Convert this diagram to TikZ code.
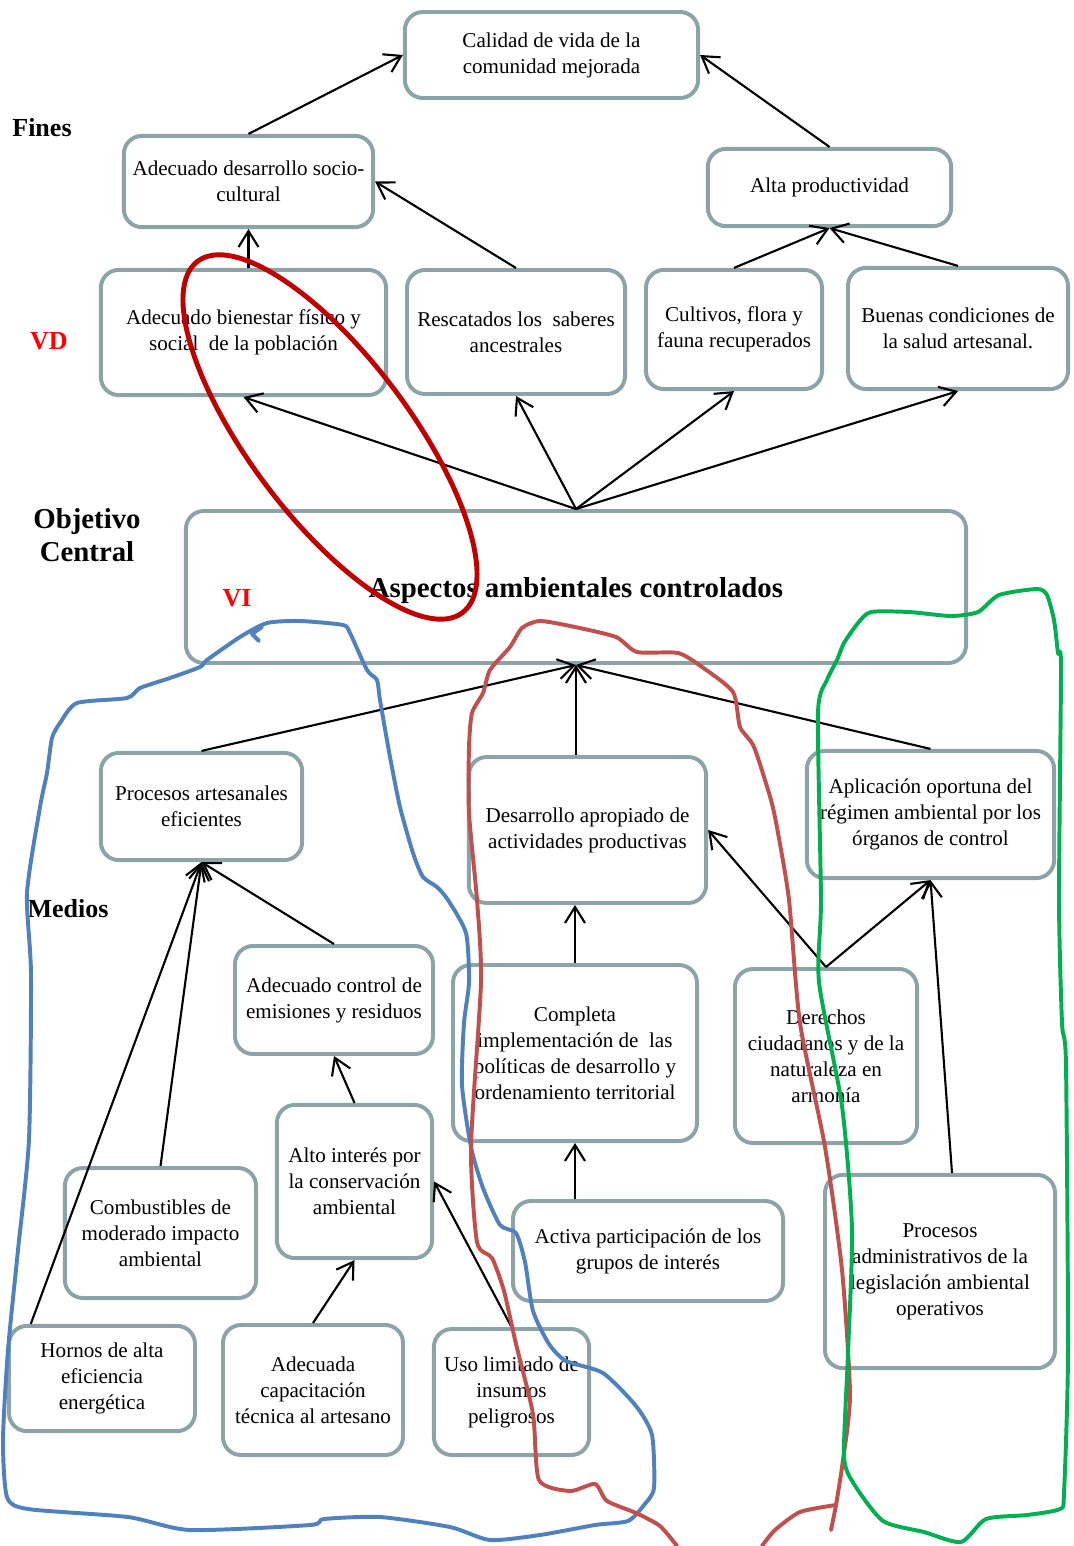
\documentclass[tikz,border=0pt]{standalone}
\usepackage{fontspec}
\setmainfont{Liberation Serif}
\usetikzlibrary{arrows.meta,calc}
\definecolor{BoxGray}{HTML}{8CA4A7}
\definecolor{InkRed}{HTML}{C00000}
\definecolor{InkBlue}{HTML}{4F81BD}
\definecolor{InkRose}{HTML}{C0504D}
\definecolor{InkGreen}{HTML}{00B050}
\newcommand{\boxfont}{\fontsize{15}{18.5}\selectfont}
\newcommand{\headfont}{\bfseries\fontsize{18.5}{22}\selectfont}
\newcommand{\bigfont}{\bfseries\fontsize{20.5}{23.5}\selectfont}

\begin{document}
\begin{tikzpicture}[x=0.025cm,y=-0.025cm,
box/.style={draw=BoxGray,line width=2.8pt,rounded corners=4.5mm,fill=white,align=center,inner sep=0pt,font=\boxfont},
lab/.style={font=\headfont,align=center},
vlab/.style={lab,text=red},
arr/.style={line width=1.5pt,-{Straight Barb[length=4mm,width=5mm]}},
pen/.style={line width=2.8pt,line cap=round,line join=round}]
\useasboundingbox (0,0) rectangle (1073,1546);

\node[lab] (fines) at (42,128) {Fines};
\node[vlab] (vd) at (49,341) {VD};
\node[lab,font=\bigfont] (objetivo) at (87,535) {Objetivo\\Central};
\node[lab] (medios) at (68,909) {Medios};

\node[box,minimum width=7.33cm,minimum height=2.15cm] (calidad) at (551.5,55) {Calidad de vida de la\\comunidad mejorada};
\node[box,minimum width=6.23cm,minimum height=2.28cm] (socio) at (248.5,181.5) {Adecuado desarrollo socio-\\cultural};
\node[box,minimum width=6.08cm,minimum height=1.93cm] (altaprod) at (829.5,187.5) {Alta productividad};
\node[box,minimum width=7.13cm,minimum height=3.13cm] (bienestar) at (243.5,332.5) {Adecuado bienestar físico y\\social\ \ de la población};
\node[box,minimum width=5.45cm,minimum height=3.1cm] (rescatados) at (516,332) {Rescatados los\ \ saberes\\ancestrales};
\node[box,minimum width=4.4cm,minimum height=2.98cm] (cultivos) at (734,329.5) {Cultivos, flora y\\fauna recuperados};
\node[box,minimum width=5.5cm,minimum height=3.03cm] (buenas) at (958,328.5) {Buenas condiciones de\\la salud artesanal.};

\node[box,font=\bigfont,minimum width=19.5cm,minimum height=3.8cm] (central) at (576,587) {\smash{\raisebox{-2.5mm}{Aspectos ambientales controlados}}};
\node[vlab] (vi) at (237,598) {VI};

\node[box,minimum width=5.03cm,minimum height=2.68cm] (procart) at (201.5,806.5) {Procesos artesanales\\eficientes};
\node[box,minimum width=5.93cm,minimum height=3.65cm] (desarrollo) at (587.5,830) {Desarrollo apropiado de\\actividades productivas};
\node[box,minimum width=6.18cm,minimum height=3.18cm] (aplicacion) at (930.5,814.5) {Aplicación oportuna del\\régimen ambiental por los\\órganos de control};
\node[box,minimum width=4.95cm,minimum height=2.7cm] (control) at (334,1000) {Adecuado control de\\emisiones y residuos};
\node[box,minimum width=6.1cm,minimum height=4.4cm] (completa) at (575,1053) {Completa\\implementación de\ \ las\\políticas de desarrollo y\\ordenamiento territorial};
\node[box,minimum width=4.55cm,minimum height=4.35cm] (derechos) at (826,1056) {Derechos\\ciudadanos y de la\\naturaleza en\\armonía};
\node[box,minimum width=3.88cm,minimum height=3.83cm] (interes) at (354.5,1181.5) {Alto interés por\\la conservación\\ambiental};
\node[box,minimum width=4.78cm,minimum height=3.25cm] (combustibles) at (160.5,1233) {Combustibles de\\moderado impacto\\ambiental};
\node[box,minimum width=6.75cm,minimum height=2.5cm] (activa) at (648,1251) {Activa participación de los\\grupos de interés};
\node[box,minimum width=5.75cm,minimum height=4.83cm] (procadm) at (940,1271.5) {Procesos\\administrativos de la\\legislación ambiental\\operativos};
\node[box,minimum width=4.65cm,minimum height=2.63cm] (hornos) at (102,1378.5) {Hornos de alta\\eficiencia\\energética};
\node[box,minimum width=4.5cm,minimum height=3.25cm] (capacitacion) at (313,1390) {Adecuada\\capacitación\\técnica al artesano};
\node[box,minimum width=3.88cm,minimum height=3.15cm] (uso) at (511.5,1392) {Uso limitado de\\insumos\\peligrosos};

\draw[arr] (socio.north) -- (calidad.west);
\draw[arr] (altaprod.north) -- (calidad.east);
\draw[arr] (bienestar.north -| socio.south) -- (socio.south);
\draw[arr] (rescatados.north) -- (socio.east);
\draw[arr] (cultivos.north) -- (altaprod.south);
\draw[arr] (buenas.north) -- (altaprod.south);
\draw[arr] (central.north) -- (bienestar.south);
\draw[arr] (central.north) -- (rescatados.south);
\draw[arr] (central.north) -- (cultivos.south);
\draw[arr] (central.north) -- (buenas.south);
\draw[arr] (procart.north) -- (central.south);
\draw[arr] (central.south |- desarrollo.north) -- (central.south);
\draw[arr] (aplicacion.north) -- (central.south);
\draw[arr] (control.north) -- (procart.south);
\draw[arr] (combustibles.north) -- (procart.south);
\draw[arr] ([xshift=-1.78cm]hornos.north) -- (procart.south);
\draw[arr] (completa.north) -- (completa.north |- desarrollo.south);
\draw[arr] (derechos.north) -- (desarrollo.east);
\draw[arr] (derechos.north) -- (aplicacion.south);
\draw[arr] (interes.north) -- (control.south);
\draw[arr] (activa.north -| completa.south) -- (completa.south);
\draw[arr] ([xshift=0.3cm]procadm.north) -- (aplicacion.south);
\draw[arr] (capacitacion.north) -- (interes.south);
\draw[arr] (uso.north) -- (interes.east);

\draw[pen,InkRed,line width=3.5pt,rotate around={-53:(330,437)}] (330,437) ellipse (220 and 80);

\draw[pen,InkBlue] plot[smooth cycle,tension=0.4] coordinates {(267,623) (300,621) (343,625) (350,633) (367,670) (377,680) (380,700) (390,757) (400,807) (413,853) (423,877) (437,887) (448,900) (466,933) (469,982) (464,1023) (462,1085) (471,1147) (483,1188) (500,1225) (516,1233) (525,1262) (533,1311) (549,1344) (566,1361) (603,1373) (636,1406) (652,1435) (654,1488) (644,1505) (628,1521) (595,1525) (540,1535) (490,1540) (450,1527) (380,1517) (324,1519) (310,1525) (190,1530) (128,1517) (28,1509) (7,1497) (3,1440) (8,1350) (18,1250) (29,1139) (31,974) (27,893) (40,807) (47,773) (52,738) (60,723) (77,703) (127,698) (140,688) (170,678) (200,667) (207,660) (240,637)};
\draw[pen,InkBlue] (262,627) -- (252,634) -- (259,641);

\draw[pen,InkRose] plot[smooth,tension=0.4] coordinates {(677,1546) (660,1526) (636,1513) (607,1501) (595,1484) (570,1491) (539,1480) (533,1414) (516,1344) (504,1291) (492,1258) (477,1242) (471,1147) (481,982) (477,900) (469,813) (469,747) (472,713) (483,693) (490,670) (510,647) (522,628) (540,621) (575,627) (616,637) (637,652) (678,653) (702,667) (733,692) (740,727) (754,747) (771,800) (778,833) (789,900) (800,1023) (825,1147) (842,1270) (850,1394) (843,1460) (836,1505) (831,1530)};
\draw[pen,InkRose] plot[smooth,tension=0.4] coordinates {(836,1505) (800,1512) (775,1530) (762,1546)};

\draw[pen,InkGreen] plot[smooth cycle,tension=0.4] coordinates {(858,623) (871,612) (909,612) (951,616) (978,612) (999,595) (1037,589) (1047,595) (1054,620) (1058,653) (1061,667) (1059,900) (1062,1023) (1066,1065) (1068,1353) (1064,1493) (1060,1509) (1027,1515) (986,1519) (961,1542) (924,1532) (883,1521) (854,1484) (844,1456) (848,1353) (852,1229) (842,1106) (819,982) (821,900) (818,713) (827,680) (837,660) (844,643)};
\end{tikzpicture}
\end{document}
